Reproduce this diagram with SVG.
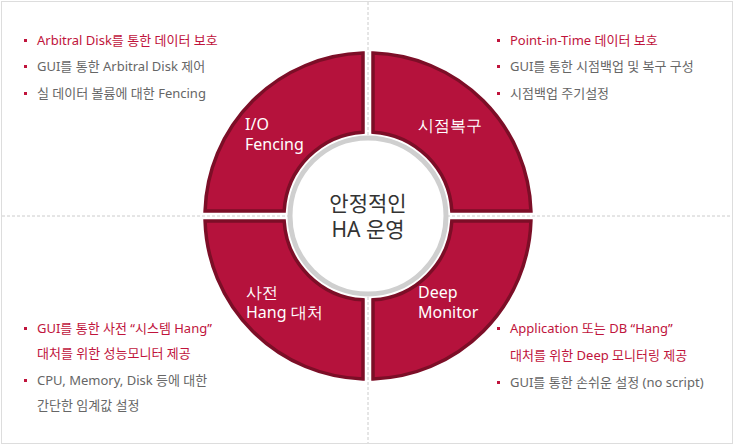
<svg xmlns="http://www.w3.org/2000/svg" width="734" height="445" viewBox="0 0 734 445">
<style>
.q{fill:#b5123c;stroke:#7c0e27;stroke-width:3.5}
.ql{fill:#fff;font:16px "Noto Sans","Liberation Sans",sans-serif}
.t{font:13px "Noto Sans","Noto Sans CJK KR",sans-serif;fill:#666}
.r{fill:#c0143c}
.b{fill:#c0143c}
.c{font:21px "Noto Sans","Noto Sans CJK KR",sans-serif;fill:#333;text-anchor:middle}
</style>
<rect x="1.5" y="1.5" width="731" height="442" fill="#fff" stroke="#ddd"/>
<g stroke="#ccc" stroke-dasharray="3,2">
<line x1="368" y1="2" x2="368" y2="443"/>
<line x1="2" y1="216" x2="732" y2="216"/>
</g>
<g id="q-io"><path class="q" d="M205.08,211 A163,163 0 0 1 363,53.08 L363,132.15 A84,84 0 0 0 284.15,211 Z"/>
<text class="ql" x="245" y="130">I/O</text><text class="ql" x="245" y="150">Fencing</text></g>
<g id="q-pit"><path class="q" d="M373,53.08 A163,163 0 0 1 530.92,211 L451.85,211 A84,84 0 0 0 373,132.15 Z"/>
<text class="ql" x="418" y="131">시점복구</text></g>
<g id="q-deep"><path class="q" d="M530.92,221 A163,163 0 0 1 373,378.92 L373,299.85 A84,84 0 0 0 451.85,221 Z"/>
<text class="ql" x="418" y="298">Deep</text><text class="ql" x="418" y="318">Monitor</text></g>
<g id="q-hang"><path class="q" d="M363,378.92 A163,163 0 0 1 205.08,221 L284.15,221 A84,84 0 0 0 363,299.85 Z"/>
<text class="ql" x="246" y="298">사전</text><text class="ql" x="246" y="318">Hang 대처</text></g>
<g id="center"><circle cx="368" cy="216" r="78" fill="#fff" stroke="#cfcfcf" stroke-width="5"/>
<text class="c" x="368" y="211">안정적인</text><text class="c" x="368" y="237">HA 운영</text></g>
<g id="tl">
<rect class="b" x="24" y="39" width="3" height="3"/><rect class="b" x="24" y="65" width="3" height="3"/><rect class="b" x="24" y="92" width="3" height="3"/>
<text class="t r" x="37" y="45">Arbitral Disk를 통한 데이터 보호</text>
<text class="t" x="37" y="71">GUI를 통한 Arbitral Disk 제어</text>
<text class="t" x="37" y="98">실 데이터 볼륨에 대한 Fencing</text></g>
<g id="tr">
<rect class="b" x="497" y="39" width="3" height="3"/><rect class="b" x="497" y="65" width="3" height="3"/><rect class="b" x="497" y="92" width="3" height="3"/>
<text class="t r" x="510" y="45">Point-in-Time 데이터 보호</text>
<text class="t" x="510" y="71">GUI를 통한 시점백업 및 복구 구성</text>
<text class="t" x="510" y="98">시점백업 주기설정</text></g>
<g id="bl">
<rect class="b" x="24" y="327" width="3" height="3"/><rect class="b" x="24" y="379" width="3" height="3"/>
<text class="t r" x="37" y="333">GUI를 통한 사전 “시스템 Hang”</text>
<text class="t r" x="37" y="358">대처를 위한 성능모니터 제공</text>
<text class="t" x="37" y="385">CPU, Memory, Disk 등에 대한</text>
<text class="t" x="37" y="410">간단한 임계값 설정</text></g>
<g id="br">
<rect class="b" x="497" y="327" width="3" height="3"/><rect class="b" x="497" y="381" width="3" height="3"/>
<text class="t r" x="510" y="333">Application 또는 DB “Hang”</text>
<text class="t r" x="510" y="360">대처를 위한 Deep 모니터링 제공</text>
<text class="t" x="510" y="387">GUI를 통한 손쉬운 설정 (no script)</text></g>
<g id="connectors"/>
</svg>
